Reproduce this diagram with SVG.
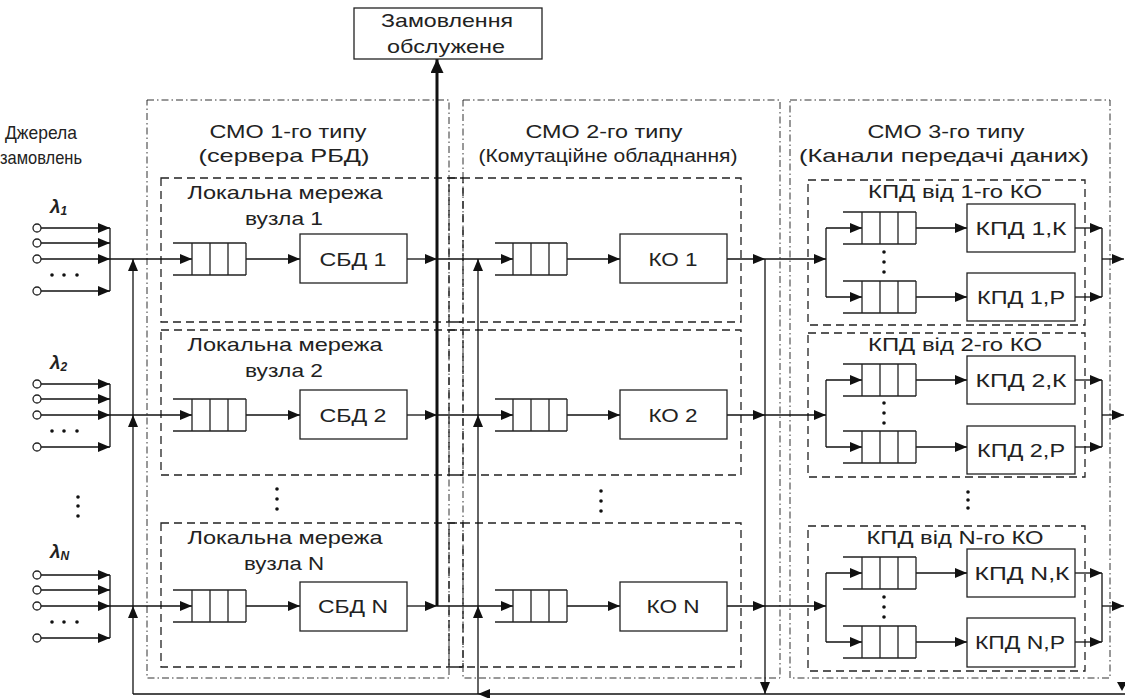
<svg xmlns="http://www.w3.org/2000/svg" width="1125" height="698" viewBox="0 0 1125 698">
<style>
.t{font-family:"Liberation Sans",Arial,sans-serif;font-size:19px;fill:#222;text-anchor:middle}
.lam{font-family:"Liberation Sans",Arial,sans-serif;font-size:19px;font-weight:bold;font-style:italic;fill:#222}
.outer{fill:none;stroke:#333;stroke-width:1;stroke-dasharray:7 3 1.5 3}
.inner{fill:none;stroke:#222;stroke-width:1.3;stroke-dasharray:8 5}
.box{fill:#fff;stroke:#222;stroke-width:1.3}
.q{fill:none;stroke:#222;stroke-width:1.3}
.c{fill:none;stroke:#111;stroke-width:1.3}
.ca{fill:none;stroke:#111;stroke-width:1.3;marker-end:url(#a)}
.src{fill:#fff;stroke:#222;stroke-width:1.3}
.dot{fill:#111}
</style>
<defs>
<marker id="a" viewBox="0 0 12 10" refX="12" refY="5" markerWidth="12" markerHeight="10" markerUnits="userSpaceOnUse" orient="auto"><path d="M0,0L12,5L0,10z" fill="#111"/></marker>
<marker id="at" viewBox="0 0 14 13" refX="14" refY="6.5" markerWidth="14" markerHeight="13" markerUnits="userSpaceOnUse" orient="auto"><path d="M0,0L14,6.5L0,13z" fill="#111"/></marker>
</defs>

<!-- system frames -->
<g id="cmo1">
<rect class="outer" x="147" y="100" width="302" height="578"/>
<text class="t" x="288" y="138" textLength="157" lengthAdjust="spacingAndGlyphs">СМО 1-го типу</text>
<text class="t" x="284" y="162" textLength="171" lengthAdjust="spacingAndGlyphs">(сервера РБД)</text>
</g>
<g id="cmo2">
<rect class="outer" x="463" y="100" width="317" height="578"/>
<text class="t" x="604" y="138" textLength="157" lengthAdjust="spacingAndGlyphs">СМО 2-го типу</text>
<text class="t" x="608" y="162" textLength="259" lengthAdjust="spacingAndGlyphs">(Комутаційне обладнання)</text>
</g>
<g id="cmo3">
<rect class="outer" x="790" y="100" width="320" height="578"/>
<text class="t" x="946" y="138" textLength="157" lengthAdjust="spacingAndGlyphs">СМО 3-го типу</text>
<text class="t" x="944" y="162" textLength="290" lengthAdjust="spacingAndGlyphs">(Канали передачі даних)</text>
</g>

<!-- local networks -->
<g id="net1">
<rect class="inner" x="161" y="178" width="302" height="144"/>
<text class="t" x="285" y="199" textLength="195" lengthAdjust="spacingAndGlyphs">Локальна мережа</text>
<text class="t" x="284" y="225" textLength="78" lengthAdjust="spacingAndGlyphs">вузла 1</text>
</g>
<g id="net2">
<rect class="inner" x="161" y="330" width="302" height="145"/>
<text class="t" x="285" y="351" textLength="195" lengthAdjust="spacingAndGlyphs">Локальна мережа</text>
<text class="t" x="284" y="377" textLength="78" lengthAdjust="spacingAndGlyphs">вузла 2</text>
</g>
<g id="netN">
<rect class="inner" x="161" y="523" width="302" height="144"/>
<text class="t" x="285" y="544" textLength="195" lengthAdjust="spacingAndGlyphs">Локальна мережа</text>
<text class="t" x="284" y="570" textLength="80" lengthAdjust="spacingAndGlyphs">вузла N</text>
</g>
<g id="sw1"><rect class="inner" x="449" y="178" width="292" height="144"/></g>
<g id="sw2"><rect class="inner" x="449" y="330" width="292" height="145"/></g>
<g id="swN"><rect class="inner" x="449" y="523" width="292" height="144"/></g>
<g id="ch1">
<rect class="inner" x="808" y="180" width="277" height="145"/>
<text class="t" x="955" y="198" textLength="174" lengthAdjust="spacingAndGlyphs">КПД від 1-го КО</text>
</g>
<g id="ch2">
<rect class="inner" x="808" y="333" width="277" height="144"/>
<text class="t" x="955" y="351" textLength="174" lengthAdjust="spacingAndGlyphs">КПД від 2-го КО</text>
</g>
<g id="chN">
<rect class="inner" x="808" y="526" width="277" height="145"/>
<text class="t" x="955" y="544" textLength="177" lengthAdjust="spacingAndGlyphs">КПД від N-го КО</text>
</g>

<!-- connectors -->
<g id="connectors">
<!-- sources group 1 -->
<path class="ca" d="M41,228H110"/><path class="ca" d="M41,243H110"/><path class="ca" d="M41,259H110"/><path class="ca" d="M41,291H110"/>
<path class="c" d="M110,228V291"/>
<!-- sources group 2 -->
<path class="ca" d="M41,384H110"/><path class="ca" d="M41,399H110"/><path class="ca" d="M41,415H110"/><path class="ca" d="M41,447H110"/>
<path class="c" d="M110,384V447"/>
<!-- sources group N -->
<path class="ca" d="M41,575H110"/><path class="ca" d="M41,590H110"/><path class="ca" d="M41,606H110"/><path class="ca" d="M41,638H110"/>
<path class="c" d="M110,575V638"/>
<path class="ca" d="M110,259H192"/><path class="ca" d="M110,415H192"/><path class="ca" d="M110,606H192"/>
<!-- left feedback -->
<path class="ca" d="M133,694V606"/><path class="ca" d="M133,606V415"/><path class="ca" d="M133,415V259"/>
<!-- CMO1 -->
<path class="ca" d="M246,259H300"/><path class="ca" d="M246,415H300"/><path class="ca" d="M246,606H300"/>
<path class="ca" d="M407,259H437"/><path class="ca" d="M407,415H437"/><path class="ca" d="M407,606H437"/>
<path class="ca" d="M437,259H513"/><path class="ca" d="M437,415H513"/><path class="ca" d="M437,606H513"/>
<path d="M437,606V59" fill="none" stroke="#111" stroke-width="3" marker-end="url(#at)"/>
<!-- middle feedback -->
<path class="ca" d="M478,694V606"/><path class="ca" d="M478,606V415"/><path class="ca" d="M478,415V259"/>
<!-- CMO2 -->
<path class="ca" d="M567,259H620"/><path class="ca" d="M567,415H620"/><path class="ca" d="M567,606H620"/>
<path class="ca" d="M727,259H765"/><path class="ca" d="M727,415H765"/><path class="ca" d="M727,606H765"/>
<path class="ca" d="M765,259H826"/><path class="ca" d="M765,415H826"/><path class="ca" d="M765,606H826"/>
<path class="ca" d="M765,259V694"/>
<!-- bottom return -->
<path class="ca" d="M1125,694H478"/>
<path class="c" d="M478,694H133"/>
<polygon points="1117,682 1127,682 1122,691" fill="#111"/>
<!-- CMO3 row 1 -->
<path class="c" d="M826,228V297"/><path class="c" d="M1102,228V297"/>
<path class="ca" d="M826,228H862"/><path class="ca" d="M826,297H862"/>
<path class="ca" d="M916,228H967"/><path class="ca" d="M916,297H967"/>
<path class="ca" d="M1075,228H1102"/><path class="ca" d="M1075,297H1102"/>
<path class="ca" d="M1102,259H1124"/>
<!-- CMO3 row 2 -->
<path class="c" d="M826,380V447"/><path class="c" d="M1102,380V447"/>
<path class="ca" d="M826,380H862"/><path class="ca" d="M826,447H862"/>
<path class="ca" d="M916,380H967"/><path class="ca" d="M916,447H967"/>
<path class="ca" d="M1075,380H1102"/><path class="ca" d="M1075,447H1102"/>
<path class="ca" d="M1102,415H1124"/>
<!-- CMO3 row N -->
<path class="c" d="M826,573V642"/><path class="c" d="M1102,573V642"/>
<path class="ca" d="M826,573H862"/><path class="ca" d="M826,642H862"/>
<path class="ca" d="M916,573H967"/><path class="ca" d="M916,642H967"/>
<path class="ca" d="M1075,573H1102"/><path class="ca" d="M1075,642H1102"/>
<path class="ca" d="M1102,606H1124"/>
</g>

<!-- served box -->
<g id="served">
<rect class="box" x="354" y="8" width="188" height="51"/>
<text class="t" x="447" y="27" textLength="132" lengthAdjust="spacingAndGlyphs">Замовлення</text>
<text class="t" x="446" y="53" textLength="118" lengthAdjust="spacingAndGlyphs">обслужене</text>
</g>

<!-- sources -->
<g id="sources-title">
<text class="t" x="41" y="139" textLength="72" lengthAdjust="spacingAndGlyphs">Джерела</text>
<text class="t" x="41" y="164" textLength="82" lengthAdjust="spacingAndGlyphs">замовлень</text>
</g>
<g id="src1">
<text class="lam" x="50" y="213">λ<tspan font-size="12" dy="2">1</tspan></text>
<circle class="src" cx="37" cy="228" r="4"/><circle class="src" cx="37" cy="243" r="4"/><circle class="src" cx="37" cy="259" r="4"/><circle class="src" cx="37" cy="291" r="4"/>
<circle class="dot" cx="52" cy="275" r="1.8"/><circle class="dot" cx="64" cy="275" r="1.8"/><circle class="dot" cx="77" cy="275" r="1.8"/>
</g>
<g id="src2">
<text class="lam" x="50" y="369">λ<tspan font-size="12" dy="2">2</tspan></text>
<circle class="src" cx="37" cy="384" r="4"/><circle class="src" cx="37" cy="399" r="4"/><circle class="src" cx="37" cy="415" r="4"/><circle class="src" cx="37" cy="447" r="4"/>
<circle class="dot" cx="52" cy="431" r="1.8"/><circle class="dot" cx="64" cy="431" r="1.8"/><circle class="dot" cx="77" cy="431" r="1.8"/>
</g>
<g id="srcDots">
<circle class="dot" cx="78" cy="497" r="1.8"/><circle class="dot" cx="78" cy="506" r="1.8"/><circle class="dot" cx="78" cy="516" r="1.8"/>
</g>
<g id="srcN">
<text class="lam" x="50" y="558">λ<tspan font-size="12" dy="2">N</tspan></text>
<circle class="src" cx="37" cy="575" r="4"/><circle class="src" cx="37" cy="590" r="4"/><circle class="src" cx="37" cy="606" r="4"/><circle class="src" cx="37" cy="638" r="4"/>
<circle class="dot" cx="52" cy="622" r="1.8"/><circle class="dot" cx="64" cy="622" r="1.8"/><circle class="dot" cx="77" cy="622" r="1.8"/>
</g>

<!-- CMO1 nodes -->
<g id="q1-1"><path class="q" d="M173,243H246M173,275H246M192,243V275M210,243V275M228,243V275M246,243V275"/></g>
<g id="sbd1"><rect class="box" x="300" y="234" width="107" height="49"/><text class="t" x="353" y="266" textLength="67" lengthAdjust="spacingAndGlyphs">СБД 1</text></g>
<g id="q1-2"><path class="q" d="M173,399H246M173,431H246M192,399V431M210,399V431M228,399V431M246,399V431"/></g>
<g id="sbd2"><rect class="box" x="300" y="390" width="107" height="49"/><text class="t" x="353" y="422" textLength="67" lengthAdjust="spacingAndGlyphs">СБД 2</text></g>
<g id="q1-N"><path class="q" d="M173,590H246M173,622H246M192,590V622M210,590V622M228,590V622M246,590V622"/></g>
<g id="sbdN"><rect class="box" x="300" y="582" width="107" height="49"/><text class="t" x="353" y="613" textLength="70" lengthAdjust="spacingAndGlyphs">СБД N</text></g>
<g id="dots1"><circle class="dot" cx="277" cy="489" r="1.8"/><circle class="dot" cx="277" cy="499" r="1.8"/><circle class="dot" cx="277" cy="509" r="1.8"/></g>

<!-- CMO2 nodes -->
<g id="q2-1"><path class="q" d="M495,243H567M495,275H567M513,243V275M531,243V275M549,243V275M567,243V275"/></g>
<g id="ko1"><rect class="box" x="620" y="234" width="107" height="49"/><text class="t" x="673" y="266" textLength="49" lengthAdjust="spacingAndGlyphs">КО 1</text></g>
<g id="q2-2"><path class="q" d="M495,399H567M495,431H567M513,399V431M531,399V431M549,399V431M567,399V431"/></g>
<g id="ko2"><rect class="box" x="620" y="390" width="107" height="49"/><text class="t" x="673" y="422" textLength="49" lengthAdjust="spacingAndGlyphs">КО 2</text></g>
<g id="q2-N"><path class="q" d="M495,590H567M495,622H567M513,590V622M531,590V622M549,590V622M567,590V622"/></g>
<g id="koN"><rect class="box" x="620" y="582" width="107" height="49"/><text class="t" x="673" y="613" textLength="53" lengthAdjust="spacingAndGlyphs">КО N</text></g>
<g id="dots2"><circle class="dot" cx="601" cy="491" r="1.8"/><circle class="dot" cx="601" cy="501" r="1.8"/><circle class="dot" cx="601" cy="511" r="1.8"/></g>

<!-- CMO3 nodes -->
<g id="q3-1K"><path class="q" d="M843,212H916M843,244H916M862,212V244M880,212V244M898,212V244M916,212V244"/></g>
<g id="q3-1P"><path class="q" d="M843,281H916M843,313H916M862,281V313M880,281V313M898,281V313M916,281V313"/></g>
<g id="kpd1K"><rect class="box" x="967" y="204" width="108" height="48"/><text class="t" x="1021" y="235" textLength="91" lengthAdjust="spacingAndGlyphs">КПД 1,К</text></g>
<g id="kpd1P"><rect class="box" x="967" y="273" width="108" height="48"/><text class="t" x="1021" y="304" textLength="88" lengthAdjust="spacingAndGlyphs">КПД 1,Р</text></g>
<g id="dots3-1"><circle class="dot" cx="884" cy="252" r="1.8"/><circle class="dot" cx="884" cy="262" r="1.8"/><circle class="dot" cx="884" cy="272" r="1.8"/></g>

<g id="q3-2K"><path class="q" d="M843,364H916M843,396H916M862,364V396M880,364V396M898,364V396M916,364V396"/></g>
<g id="q3-2P"><path class="q" d="M843,431H916M843,463H916M862,431V463M880,431V463M898,431V463M916,431V463"/></g>
<g id="kpd2K"><rect class="box" x="967" y="356" width="108" height="48"/><text class="t" x="1021" y="387" textLength="91" lengthAdjust="spacingAndGlyphs">КПД 2,К</text></g>
<g id="kpd2P"><rect class="box" x="967" y="426" width="108" height="48"/><text class="t" x="1021" y="457" textLength="88" lengthAdjust="spacingAndGlyphs">КПД 2,Р</text></g>
<g id="dots3-2"><circle class="dot" cx="884" cy="403" r="1.8"/><circle class="dot" cx="884" cy="413" r="1.8"/><circle class="dot" cx="884" cy="423" r="1.8"/></g>

<g id="dots3"><circle class="dot" cx="968" cy="492" r="1.8"/><circle class="dot" cx="968" cy="500" r="1.8"/><circle class="dot" cx="968" cy="508" r="1.8"/></g>

<g id="q3-NK"><path class="q" d="M843,557H916M843,589H916M862,557V589M880,557V589M898,557V589M916,557V589"/></g>
<g id="q3-NP"><path class="q" d="M843,626H916M843,658H916M862,626V658M880,626V658M898,626V658M916,626V658"/></g>
<g id="kpdNK"><rect class="box" x="967" y="549" width="108" height="48"/><text class="t" x="1022" y="580" textLength="95" lengthAdjust="spacingAndGlyphs">КПД N,К</text></g>
<g id="kpdNP"><rect class="box" x="967" y="618" width="108" height="49"/><text class="t" x="1020" y="649" textLength="90" lengthAdjust="spacingAndGlyphs">КПД N,Р</text></g>
<g id="dots3-N"><circle class="dot" cx="884" cy="597" r="1.8"/><circle class="dot" cx="884" cy="607" r="1.8"/><circle class="dot" cx="884" cy="617" r="1.8"/></g>
</svg>
